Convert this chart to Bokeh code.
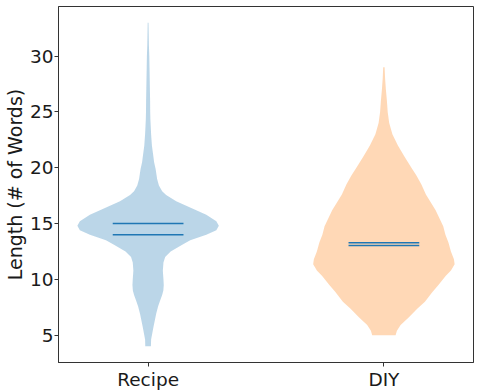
from bokeh.plotting import figure
from bokeh.models import Range1d, FixedTicker
from bokeh.embed import file_html
from bokeh.resources import INLINE

# ---- data ----
categories = ["Recipe", "DIY"]
positions = [1, 2]

# Recipe violin profile: length value -> relative half width
recipe_y = [4.0, 4.6, 5.7, 6.9, 7.6, 8.1, 8.6, 9.0, 9.5, 10.0, 10.5, 10.8, 11.5, 12.0, 12.5,
            13.1, 13.5, 14.0, 14.4, 14.8, 15.2, 15.8, 16.4, 17.0, 17.55, 17.9, 18.4, 19.0,
            19.9, 20.5, 21.4, 22.0, 23.0, 24.3, 25.0, 26.0, 27.0, 28.0, 29.0, 30.0, 31.0,
            32.0, 33.0]
recipe_w = [2.8, 3.0, 5.3, 8.0, 10.0, 12.0, 14.0, 15.2, 15.6, 15.3, 14.9, 14.7, 15.3, 17.0,
            22.5, 34.0, 42.0, 58.0, 68.0, 70.5, 68.0, 58.0, 43.0, 28.0, 18.0, 14.0, 10.8,
            9.0, 7.5, 6.0, 4.7, 3.8, 3.0, 2.3, 2.1, 2.0, 1.8, 1.6, 1.4, 1.2, 0.8,
            0.6, 0.4]

# DIY violin profile
diy_y = [5.0, 5.4, 5.9, 6.6, 7.36, 8.0, 8.84, 9.5, 10.3, 10.8, 11.35, 11.8, 12.5,
         13.3, 14.0, 14.75, 16.2, 17.6, 18.5, 19.3, 20.0, 21.0, 22.0, 23.0, 24.0,
         25.0, 26.0, 27.0, 28.0, 29.0]
diy_w = [11.7, 13.0, 16.7, 25.0, 33.3, 41.0, 48.3, 54.5, 61.7, 67.0, 70.7, 70.0, 67.0,
         64.5, 61.5, 59.3, 51.7, 42.0, 37.5, 32.5, 27.5, 20.5, 14.0, 8.5, 5.3,
         3.8, 3.0, 2.0, 1.2, 0.7]

means = [15.0, 13.28]
medians = [14.0, 13.03]

tick_values = [5, 10, 15, 20, 25, 30]

colors = ["#1f77b4", "#ff7f0e"]
line_color = "#1f77b4"
violin_width = 0.6

FONT = "DejaVu Sans"

p = figure(width=479, height=392, output_backend="svg", toolbar_location=None,
           x_range=Range1d(0.62, 2.38), y_range=Range1d(2.55, 34.45),
           min_border_left=58, min_border_right=6, min_border_top=6, min_border_bottom=27)

p.grid.visible = False
p.outline_line_color = "#333333"
p.outline_line_width = 1
p.outline_line_alpha = 1.0
p.background_fill_color = "white"
p.border_fill_color = "white"

profiles = [(recipe_y, recipe_w), (diy_y, diy_w)]
for pos, (ys, ws), col in zip(positions, profiles, colors):
    m = max(ws)
    half = [violin_width / 2 * w / m for w in ws]
    xs = [pos + h for h in half] + [pos - h for h in reversed(half)]
    yy = list(ys) + list(reversed(ys))
    p.patch(xs, yy, fill_color=col, fill_alpha=0.3, line_color=None)

q = violin_width / 4
p.segment(x0=[x - q for x in positions], x1=[x + q for x in positions],
          y0=means, y1=means, line_color=line_color, line_width=1.5)
p.segment(x0=[x - q for x in positions], x1=[x + q for x in positions],
          y0=medians, y1=medians, line_color=line_color, line_width=1.5)

# axes
p.xaxis.ticker = FixedTicker(ticks=positions)
p.xaxis.major_label_overrides = {pos: c for pos, c in zip(positions, categories)}
p.yaxis.ticker = FixedTicker(ticks=tick_values)
p.yaxis.axis_label = "Length (# of Words)"

for ax in (p.xaxis[0], p.yaxis[0]):
    ax.axis_line_color = "#333333"
    ax.major_tick_line_color = "#333333"
    ax.major_tick_in = 0
    ax.major_tick_out = 4
    ax.minor_tick_line_color = None
    ax.major_label_text_font = FONT
    ax.major_label_text_font_size = "18.5px"
    ax.major_label_text_color = "#1a1a1a"
    ax.major_label_standoff = 2

p.yaxis.major_label_standoff = 1
p.yaxis.axis_label_text_font = FONT
p.yaxis.axis_label_text_font_size = "19px"
p.yaxis.axis_label_text_font_style = "normal"
p.yaxis.axis_label_text_color = "#1a1a1a"
p.yaxis.axis_label_standoff = 1

open("out.html", "w").write(file_html(p, INLINE))
